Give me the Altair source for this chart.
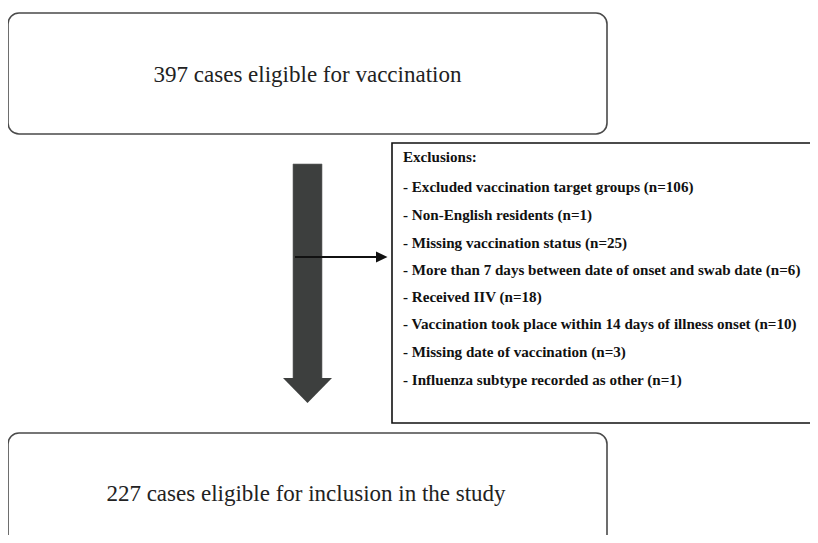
import altair as alt
import pandas as pd

# ---- values ----
eligible_n = [397]
included_n = [227]
exclusion_reasons = [
    "Excluded vaccination target groups",
    "Non-English residents",
    "Missing vaccination status",
    "More than 7 days between date of onset and swab date",
    "Received IIV",
    "Vaccination took place within 14 days of illness onset",
    "Missing date of vaccination",
    "Influenza subtype recorded as other",
]
exclusion_counts = [106, 1, 25, 6, 18, 10, 3, 1]

# ---- layout (pixel-like coordinates of the page) ----
W, H = 802, 527
X0, X1, Y0, Y1 = 8, 810, 8, 535
xs = alt.Scale(domain=[X0, X1], nice=False, zero=False)
ys = alt.Scale(domain=[Y0, Y1], nice=False, zero=False, reverse=True)
SERIF = "Liberation Serif"
BOX_STROKE = "#4a4a4a"
ARROW_FILL = "#3d3f3e"


def X(f):
    return alt.X(f, type="quantitative", scale=xs, axis=None)


def Y(f):
    return alt.Y(f, type="quantitative", scale=ys, axis=None)


boxes = pd.DataFrame({
    "x": [8, 8], "x2": [607, 607], "y": [13, 433], "y2": [134, 560],
})
rboxes = alt.Chart(boxes).mark_rect(
    fill="white", stroke=BOX_STROKE, strokeWidth=1.6, cornerRadius=11, clip=True
).encode(x=X("x"), x2="x2", y=Y("y"), y2="y2")

box_text = pd.DataFrame({
    "x": [307.5, 306], "y": [75, 494],
    "t": [f"{eligible_n[0]} cases eligible for vaccination",
          f"{included_n[0]} cases eligible for inclusion in the study"],
})
tbox = alt.Chart(box_text).mark_text(
    font=SERIF, fontSize=23, color="#222222", align="center", baseline="middle"
).encode(x=X("x"), y=Y("y"), text="t:N")

# big down arrow: shaft + head
shaft = alt.Chart(pd.DataFrame({"x": [293], "x2": [322], "y": [164], "y2": [379]})).mark_rect(
    fill=ARROW_FILL, stroke="#666666", strokeWidth=0.6
).encode(x=X("x"), x2="x2", y=Y("y"), y2="y2")
head = alt.Chart(pd.DataFrame({
    "x": [283, 307.5, 332], "y": [378, 378, 378], "y2": [378, 403, 378]
})).mark_area(fill=ARROW_FILL, interpolate="linear").encode(
    x=X("x"), y=Y("y"), y2="y2")

# side arrow
side = alt.Chart(pd.DataFrame({"x": [295], "x2": [378], "y": [257]})).mark_rule(
    color="#111111", strokeWidth=2
).encode(x=X("x"), x2="x2", y=Y("y"))
side_head = alt.Chart(pd.DataFrame({
    "y": [251.5, 257, 262.5], "x": [376, 376, 376], "x2": [376, 387.5, 376]
})).mark_area(fill="#111111", orient="horizontal", interpolate="linear").encode(
    y=Y("y"), x=X("x"), x2="x2")

# exclusion box
exbox = alt.Chart(pd.DataFrame({"x": [392], "x2": [830], "y": [143], "y2": [423]})).mark_rect(
    fill="white", stroke="#111111", strokeWidth=1.6, clip=True
).encode(x=X("x"), x2="x2", y=Y("y"), y2="y2")

lines = ["Exclusions:"] + [f"- {r} (n={n})" for r, n in zip(exclusion_reasons, exclusion_counts)]
line_y = [157, 187, 215, 243, 270, 297, 324, 352, 380]
extext = alt.Chart(pd.DataFrame({"x": [403] * len(lines), "y": line_y, "t": lines})).mark_text(
    font=SERIF, fontSize=15.1, fontWeight="bold", color="#111111", align="left", baseline="middle"
).encode(x=X("x"), y=Y("y"), text="t:N")

chart = alt.layer(rboxes, tbox, shaft, head, side, side_head, exbox, extext).properties(
    width=W, height=H, padding=0, autosize=alt.AutoSizeParams(type="none")
).configure(background="white").configure_view(strokeWidth=0, stroke=None)

chart.save("out.html", embed_options={"renderer": "svg", "actions": False})
